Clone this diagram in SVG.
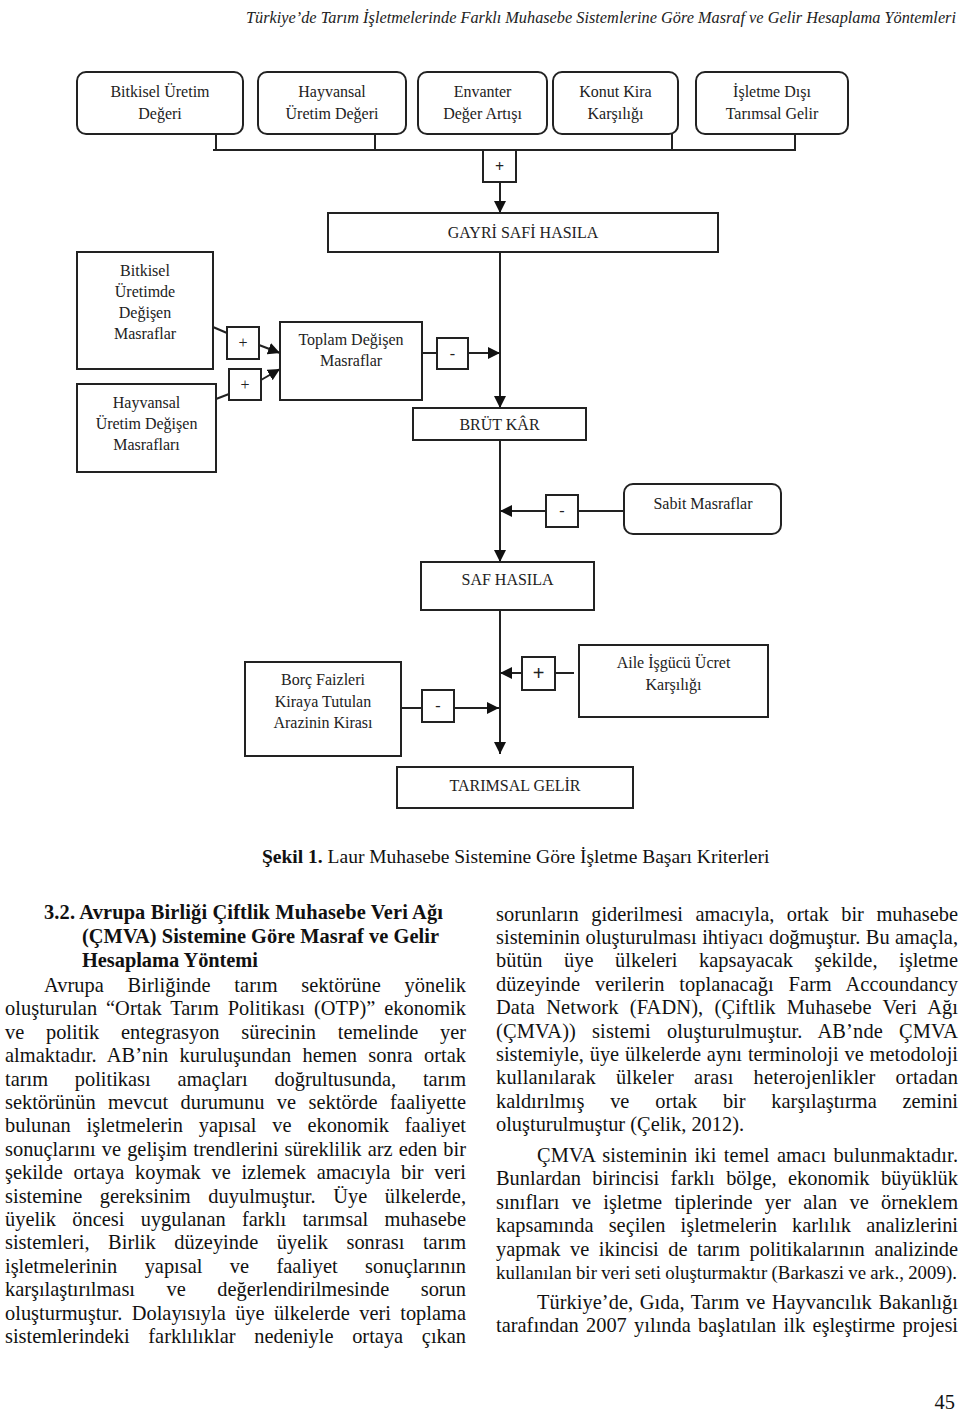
<svg xmlns="http://www.w3.org/2000/svg" width="960" height="1415" viewBox="0 0 960 1415">
<style>
.bg{fill:#fff}
.box{fill:#fff;stroke:#222;stroke-width:2}
.op{fill:#fff;stroke:#222;stroke-width:2}
.ln{fill:none;stroke:#222;stroke-width:2}
.t{font-family:"Liberation Serif","Times New Roman",serif;font-size:16px;fill:#222;text-anchor:middle}
.opt{font-family:"Liberation Serif","Times New Roman",serif;font-size:16px;fill:#222;text-anchor:middle}
.b{font-family:"Liberation Serif","Times New Roman",serif;font-size:20.4px;fill:#111}
.h{font-family:"Liberation Serif","Times New Roman",serif;font-size:20.4px;font-weight:bold;fill:#111}
.hdr{font-family:"Liberation Serif","Times New Roman",serif;font-size:16.3px;font-style:italic;fill:#222}
.cap{font-family:"Liberation Serif","Times New Roman",serif;font-size:19.5px;fill:#111}
</style>
<defs>
<marker id="ah" viewBox="0 0 12 12" refX="12" refY="6" markerWidth="12" markerHeight="12" markerUnits="userSpaceOnUse" orient="auto">
<path d="M0,0 L12,6 L0,12 z" fill="#111"/>
</marker>
</defs>
<rect class="bg" x="0" y="0" width="960" height="1415"/>

<text class="hdr" x="246" y="23" textLength="710" lengthAdjust="spacing">Türkiye’de Tarım İşletmelerinde Farklı Muhasebe Sistemlerine Göre Masraf ve Gelir Hesaplama Yöntemleri</text>

<g id="connectors">
<path class="ln" d="M216,134 V150 M375,134 V150 M672,134 V150 M795,134 V150 M213,150 H796"/>
<path class="ln" d="M500,182 V213" marker-end="url(#ah)"/>
<path class="ln" d="M500,252 V408" marker-end="url(#ah)"/>
<path class="ln" d="M213,327 L227,333"/>
<path class="ln" d="M259,345 L280,353" marker-end="url(#ah)"/>
<path class="ln" d="M216,399 L229,394"/>
<path class="ln" d="M261,380 L280,369" marker-end="url(#ah)"/>
<path class="ln" d="M422,353 H437"/>
<path class="ln" d="M468,353 H500" marker-end="url(#ah)"/>
<path class="ln" d="M500,440 V562" marker-end="url(#ah)"/>
<path class="ln" d="M624,511 H578"/>
<path class="ln" d="M546,511 H500" marker-end="url(#ah)"/>
<path class="ln" d="M500,610 V754" marker-end="url(#ah)"/>
<path class="ln" d="M401,708 H422"/>
<path class="ln" d="M454,708 H499" marker-end="url(#ah)"/>
<path class="ln" d="M574,673 H555"/>
<path class="ln" d="M522,673 H500" marker-end="url(#ah)"/>
</g>

<g id="n-bitkisel-uretim-degeri">
<rect class="box" x="77" y="72" width="166" height="62" rx="9"/>
<text class="t" x="160" y="97">Bitkisel Üretim</text>
<text class="t" x="160" y="119">Değeri</text>
</g>
<g id="n-hayvansal-uretim-degeri">
<rect class="box" x="258" y="72" width="148" height="62" rx="9"/>
<text class="t" x="332" y="97">Hayvansal</text>
<text class="t" x="332" y="119">Üretim Değeri</text>
</g>
<g id="n-envanter">
<rect class="box" x="418" y="72" width="129" height="62" rx="9"/>
<text class="t" x="482.5" y="97">Envanter</text>
<text class="t" x="482.5" y="119">Değer Artışı</text>
</g>
<g id="n-konut-kira">
<rect class="box" x="553" y="72" width="125" height="62" rx="9"/>
<text class="t" x="615.5" y="97">Konut Kira</text>
<text class="t" x="615.5" y="119">Karşılığı</text>
</g>
<g id="n-isletme-disi">
<rect class="box" x="696" y="72" width="152" height="62" rx="9"/>
<text class="t" x="772" y="97">İşletme Dışı</text>
<text class="t" x="772" y="119">Tarımsal Gelir</text>
</g>
<g id="op-plus-top">
<rect class="op" x="483" y="150" width="33" height="32"/>
<text class="opt" x="499.5" y="172" font-weight="bold">+</text>
</g>
<g id="n-gayri-safi-hasila">
<rect class="box" x="328" y="213" width="390" height="39"/>
<text class="t" x="523" y="238">GAYRİ SAFİ HASILA</text>
</g>
<g id="n-bitkisel-degisen">
<rect class="box" x="77" y="252" width="136" height="117"/>
<text class="t" x="145" y="276">Bitkisel</text>
<text class="t" x="145" y="297">Üretimde</text>
<text class="t" x="145" y="318">Değişen</text>
<text class="t" x="145" y="339">Masraflar</text>
</g>
<g id="n-hayvansal-degisen">
<rect class="box" x="77" y="384" width="139" height="88"/>
<text class="t" x="146.5" y="408">Hayvansal</text>
<text class="t" x="146.5" y="429">Üretim Değişen</text>
<text class="t" x="146.5" y="450">Masrafları</text>
</g>
<g id="op-plus-1">
<rect class="op" x="227" y="327" width="32" height="32"/>
<text class="opt" x="243" y="348">+</text>
</g>
<g id="op-plus-2">
<rect class="op" x="229" y="369" width="32" height="31"/>
<text class="opt" x="245" y="390">+</text>
</g>
<g id="n-toplam-degisen">
<rect class="box" x="280" y="322" width="142" height="78"/>
<text class="t" x="351" y="345">Toplam Değişen</text>
<text class="t" x="351" y="366">Masraflar</text>
</g>
<g id="op-minus-1">
<rect class="op" x="437" y="338" width="31" height="31"/>
<text class="opt" x="452.5" y="359">-</text>
</g>
<g id="n-brut-kar">
<rect class="box" x="413" y="408" width="173" height="32"/>
<text class="t" x="499.5" y="430">BRÜT KÂR</text>
</g>
<g id="op-minus-2">
<rect class="op" x="546" y="495" width="32" height="32"/>
<text class="opt" x="562" y="516">-</text>
</g>
<g id="n-sabit-masraflar">
<rect class="box" x="624" y="484" width="157" height="50" rx="9"/>
<text class="t" x="703" y="509">Sabit Masraflar</text>
</g>
<g id="n-saf-hasila">
<rect class="box" x="421" y="562" width="173" height="48"/>
<text class="t" x="507.5" y="585">SAF HASILA</text>
</g>
<g id="n-borc-faizleri">
<rect class="box" x="245" y="662" width="156" height="94"/>
<text class="t" x="323" y="685">Borç Faizleri</text>
<text class="t" x="323" y="707">Kiraya Tutulan</text>
<text class="t" x="323" y="728">Arazinin Kirası</text>
</g>
<g id="op-minus-3">
<rect class="op" x="422" y="690" width="32" height="32"/>
<text class="opt" x="438" y="711">-</text>
</g>
<g id="op-plus-3">
<rect class="op" x="522" y="657" width="33" height="33"/>
<text class="opt" x="538.5" y="680" style="font-family:'Liberation Sans',Arial,sans-serif;font-size:20px">+</text>
</g>
<g id="n-aile-isgucu">
<rect class="box" x="579" y="645" width="189" height="72"/>
<text class="t" x="673.5" y="668">Aile İşgücü Ücret</text>
<text class="t" x="673.5" y="690">Karşılığı</text>
</g>
<g id="n-tarimsal-gelir">
<rect class="box" x="397" y="767" width="236" height="41"/>
<text class="t" x="515" y="791">TARIMSAL GELİR</text>
</g>

<text class="cap" x="262" y="863"><tspan font-weight="bold">Şekil 1.</tspan> Laur Muhasebe Sistemine Göre İşletme Başarı Kriterleri</text>

<g id="left-column">
<text class="h" x="44" y="919" textLength="399" lengthAdjust="spacing">3.2. Avrupa Birliği Çiftlik Muhasebe Veri Ağı</text>
<text class="h" x="82" y="943" textLength="357" lengthAdjust="spacing">(ÇMVA) Sistemine Göre Masraf ve Gelir</text>
<text class="h" x="82" y="967" textLength="176" lengthAdjust="spacing">Hesaplama Yöntemi</text>
<text class="b" x="44" y="992" word-spacing="18.5" textLength="422" lengthAdjust="spacing">Avrupa Birliğinde tarım sektörüne yönelik</text>
<text class="b" x="5" y="1015.4" word-spacing="3.7" textLength="461" lengthAdjust="spacing">oluşturulan “Ortak Tarım Politikası (OTP)” ekonomik</text>
<text class="b" x="5" y="1038.8" word-spacing="16.6" textLength="461" lengthAdjust="spacing">ve politik entegrasyon sürecinin temelinde yer</text>
<text class="b" x="5" y="1062.2" word-spacing="6.1" textLength="461" lengthAdjust="spacing">almaktadır. AB’nin kuruluşundan hemen sonra ortak</text>
<text class="b" x="5" y="1085.6" word-spacing="21.6" textLength="461" lengthAdjust="spacing">tarım politikası amaçları doğrultusunda, tarım</text>
<text class="b" x="5" y="1109" word-spacing="7.3" textLength="461" lengthAdjust="spacing">sektörünün mevcut durumunu ve sektörde faaliyette</text>
<text class="b" x="5" y="1132.4" word-spacing="10.7" textLength="461" lengthAdjust="spacing">bulunan işletmelerin yapısal ve ekonomik faaliyet</text>
<text class="b" x="5" y="1155.8" word-spacing="1" textLength="461" lengthAdjust="spacing">sonuçlarını ve gelişim trendlerini süreklilik arz eden bir</text>
<text class="b" x="5" y="1179.2" word-spacing="5.6" textLength="461" lengthAdjust="spacing">şekilde ortaya koymak ve izlemek amacıyla bir veri</text>
<text class="b" x="5" y="1202.6" word-spacing="12.4" textLength="461" lengthAdjust="spacing">sistemine gereksinim duyulmuştur. Üye ülkelerde,</text>
<text class="b" x="5" y="1226" word-spacing="11.2" textLength="461" lengthAdjust="spacing">üyelik öncesi uygulanan farklı tarımsal muhasebe</text>
<text class="b" x="5" y="1249.4" word-spacing="13.5" textLength="461" lengthAdjust="spacing">sistemleri, Birlik düzeyinde üyelik sonrası tarım</text>
<text class="b" x="5" y="1272.8" word-spacing="22.3" textLength="461" lengthAdjust="spacing">işletmelerinin yapısal ve faaliyet sonuçlarının</text>
<text class="b" x="5" y="1296.2" word-spacing="26.5" textLength="461" lengthAdjust="spacing">karşılaştırılması ve değerlendirilmesinde sorun</text>
<text class="b" x="5" y="1319.6" word-spacing="4.2" textLength="461" lengthAdjust="spacing">oluşturmuştur. Dolayısıyla üye ülkelerde veri toplama</text>
<text class="b" x="5" y="1343" word-spacing="13.6" textLength="461" lengthAdjust="spacing">sistemlerindeki farklılıklar nedeniyle ortaya çıkan</text>
</g>

<g id="right-column">
<text class="b" x="496" y="920.5" word-spacing="7.4" textLength="462" lengthAdjust="spacing">sorunların giderilmesi amacıyla, ortak bir muhasebe</text>
<text class="b" x="496" y="943.9" word-spacing="0.3" textLength="462" lengthAdjust="spacing">sisteminin oluşturulması ihtiyacı doğmuştur. Bu amaçla,</text>
<text class="b" x="496" y="967.3" word-spacing="16.5" textLength="462" lengthAdjust="spacing">bütün üye ülkeleri kapsayacak şekilde, işletme</text>
<text class="b" x="496" y="990.7" word-spacing="9.8" textLength="462" lengthAdjust="spacing">düzeyinde verilerin toplanacağı Farm Accoundancy</text>
<text class="b" x="496" y="1014.1" word-spacing="6.1" textLength="462" lengthAdjust="spacing">Data Network (FADN), (Çiftlik Muhasebe Veri Ağı</text>
<text class="b" x="496" y="1037.5" word-spacing="10.7" textLength="462" lengthAdjust="spacing">(ÇMVA)) sistemi oluşturulmuştur. AB’nde ÇMVA</text>
<text class="b" x="496" y="1060.9" word-spacing="0.8" textLength="462" lengthAdjust="spacing">sistemiyle, üye ülkelerde aynı terminoloji ve metodoloji</text>
<text class="b" x="496" y="1084.3" word-spacing="14.7" textLength="462" lengthAdjust="spacing">kullanılarak ülkeler arası heterojenlikler ortadan</text>
<text class="b" x="496" y="1107.7" word-spacing="20.7" textLength="462" lengthAdjust="spacing">kaldırılmış ve ortak bir karşılaştırma zemini</text>
<text class="b" x="496" y="1131.1">oluşturulmuştur (Çelik, 2012).</text>
<text class="b" x="537" y="1162" word-spacing="2.1" textLength="421" lengthAdjust="spacing">ÇMVA sisteminin iki temel amacı bulunmaktadır.</text>
<text class="b" x="496" y="1185.4" word-spacing="6.3" textLength="462" lengthAdjust="spacing">Bunlardan birincisi farklı bölge, ekonomik büyüklük</text>
<text class="b" x="496" y="1208.8" word-spacing="7.2" textLength="462" lengthAdjust="spacing">sınıfları ve işletme tiplerinde yer alan ve örneklem</text>
<text class="b" x="496" y="1232.2" word-spacing="10.1" textLength="462" lengthAdjust="spacing">kapsamında seçilen işletmelerin karlılık analizlerini</text>
<text class="b" x="496" y="1255.6" word-spacing="4.5" textLength="462" lengthAdjust="spacing">yapmak ve ikincisi de tarım politikalarının analizinde</text>
<text class="b" x="496" y="1279" style="font-size:18.8px" word-spacing="-0.6" textLength="461" lengthAdjust="spacing">kullanılan bir veri seti oluşturmaktır (Barkaszi ve ark., 2009).</text>
<text class="b" x="537" y="1309" word-spacing="1.4" textLength="421" lengthAdjust="spacing">Türkiye’de, Gıda, Tarım ve Hayvancılık Bakanlığı</text>
<text class="b" x="496" y="1332.4" word-spacing="2.2" textLength="462" lengthAdjust="spacing">tarafından 2007 yılında başlatılan ilk eşleştirme projesi</text>
</g>

<text class="b" x="955" y="1409" text-anchor="end">45</text>
</svg>
